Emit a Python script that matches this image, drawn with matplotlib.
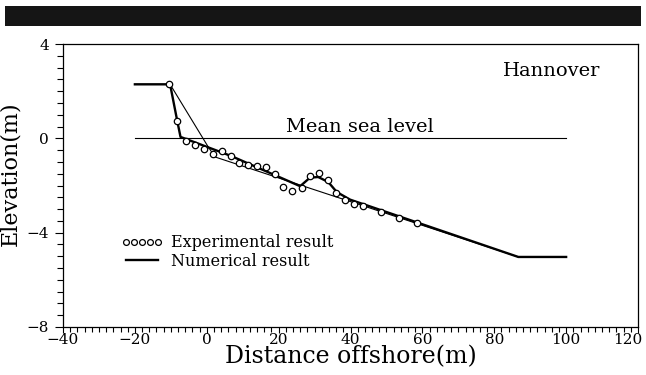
import matplotlib
matplotlib.use("Agg")
import matplotlib.pyplot as plt
from matplotlib.lines import Line2D
from matplotlib.patches import Rectangle
from matplotlib.ticker import MultipleLocator

plt.rcParams['font.family'] = ['DejaVu Serif']

# Measured bed profile (experimental)
exp_x = [-10.4, -8.2, -5.8, -3.3, -0.8, 1.7, 4.3, 6.8, 9.0, 11.5, 14.1, 16.5,
         19.0, 21.3, 23.8, 26.4, 28.8, 31.2, 33.7, 36.1, 38.5, 41.0, 43.6,
         48.5, 53.5, 58.5]
exp_y = [2.29, 0.73, -0.13, -0.30, -0.44, -0.65, -0.54, -0.75, -1.03, -1.11,
         -1.19, -1.22, -1.53, -2.06, -2.25, -2.11, -1.61, -1.45, -1.78, -2.30,
         -2.60, -2.80, -2.88, -3.12, -3.36, -3.61]

# Computed final profile (numerical)
num_x = [-20.0, -10.2, -8.2, -7.3, 6.8, 26.0, 28.7, 31.0, 33.8, 36.2, 39.9, 86.7, 100.0]
num_y = [2.29, 2.29, 0.73, 0.06, -0.75, -2.03, -1.67, -1.64, -1.85, -2.28, -2.60, -5.03, -5.03]

# Initial profile
init_x = [-20.0, -10.2, 0.15, 2.3, 86.7, 100.0]
init_y = [2.29, 2.29, -0.30, -0.79, -5.03, -5.03]

# Mean sea level
msl_x = [-20.0, 100.0]
msl_y = [0.0, 0.0]

# Axis ticks
x_ticks = [-40, -20, 0, 20, 40, 60, 80, 100, 120]
y_ticks = [-8, -4, 0, 4]

fig = plt.figure(figsize=(6.46, 3.75), dpi=100)
fig.patches.append(Rectangle((5 / 646, 1 - 26 / 375), 636 / 646, 20 / 375,
                             transform=fig.transFigure, facecolor='#151515',
                             edgecolor='none'))

ax = fig.add_axes([63 / 646, 48 / 375, 575 / 646, 283 / 375])

ax.plot(msl_x, msl_y, color='black', lw=0.8)
ax.plot(init_x, init_y, color='black', lw=0.8)
ax.plot(num_x, num_y, color='black', lw=1.7)
ax.plot(exp_x, exp_y, linestyle='none', marker='o', ms=4.6, mfc='white',
        mec='black', mew=0.9)

ax.text(42.5, 0.1, 'Mean sea level', fontsize=14, ha='center', va='bottom')
ax.text(0.935, 0.905, 'Hannover', transform=ax.transAxes, fontsize=14,
        ha='right', va='center')

handles = [Line2D([], [], linestyle='none', marker='o', ms=4.2, mfc='white',
                  mec='black', mew=0.9),
           Line2D([], [], color='black', lw=1.7)]
ax.legend(handles, ['Experimental result', 'Numerical result'],
          loc='upper left', bbox_to_anchor=(0.09, 0.35), frameon=False,
          numpoints=5, handlelength=2.6, handletextpad=0.55, labelspacing=0.1,
          fontsize=11.5, borderaxespad=0.0)

ax.set_xlim(-40, 120)
ax.set_ylim(-8, 4)
ax.set_xticks(x_ticks)
ax.set_yticks(y_ticks)
ax.xaxis.set_minor_locator(MultipleLocator(2))
ax.yaxis.set_minor_locator(MultipleLocator(0.5))
ax.tick_params(which='both', direction='out', top=False, right=False,
               labelsize=11, width=0.8)
ax.tick_params(axis='y', which='major', length=6, pad=4)
ax.tick_params(axis='y', which='minor', length=4)
ax.tick_params(axis='x', which='major', length=4, pad=0)
ax.tick_params(axis='x', which='minor', length=3.5)
for s in ax.spines.values():
    s.set_linewidth(0.9)

# keep the last x tick label inside the figure
last = ax.get_xticklabels()[-1]
last.set_horizontalalignment('right')
last.set_transform(last.get_transform() +
                   matplotlib.transforms.ScaledTranslation(4 / 100, 0, fig.dpi_scale_trans))

ax.set_xlabel('Distance offshore(m)', fontsize=17, labelpad=-1)
ax.set_ylabel('Elevation(m)', fontsize=16)
ax.yaxis.set_label_coords(-0.072, 0.54)

fig.savefig('out.png', dpi=100)
